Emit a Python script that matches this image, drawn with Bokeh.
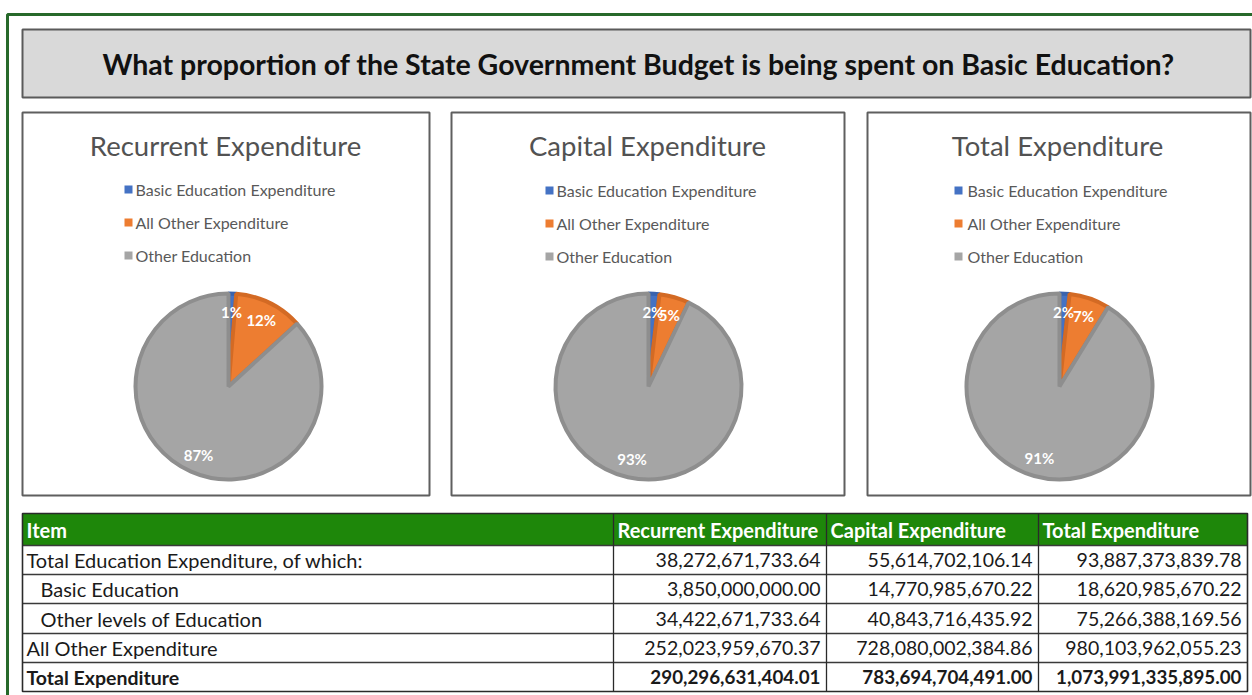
from bokeh.plotting import figure
from bokeh.models import Range1d, ColumnDataSource
from bokeh.core.properties import value
from bokeh.embed import file_html
from bokeh.resources import INLINE
import math

# ---------------- data ----------------
main_title = "What proportion of the State Government Budget is being spent on Basic Education?"
pie_titles = ["Recurrent Expenditure", "Capital Expenditure", "Total Expenditure"]
legend_labels = ["Basic Education Expenditure", "All Other Expenditure", "Other Education"]
slice_colors = ["#4472C4", "#ED7D31", "#A5A5A5"]

table_header = ["Item", "Recurrent Expenditure", "Capital Expenditure", "Total Expenditure"]
items = ["Total Education Expenditure, of which:", "Basic Education",
         "Other levels of Education", "All Other Expenditure", "Total Expenditure"]
recurrent = [38272671733.64, 3850000000.00, 34422671733.64, 252023959670.37, 290296631404.01]
capital = [55614702106.14, 14770985670.22, 40843716435.92, 728080002384.86, 783694704491.00]
total = [93887373839.78, 18620985670.22, 75266388169.56, 980103962055.23, 1073991335895.00]
columns = [recurrent, capital, total]
# pie slices: Basic Education, Other levels of Education, All Other Expenditure
slice_rows = [1, 2, 3]

# ---------------- layout / style ----------------
FONT = value("Lato")
W, H = 1252, 695
def Y(v):
    return H - v

p = figure(width=W, height=H, x_range=Range1d(0, W), y_range=Range1d(0, H),
           output_backend="svg", toolbar_location=None, min_border=0,
           x_axis_location=None, y_axis_location=None)
p.grid.visible = False
p.outline_line_color = None
p.background_fill_color = "white"
p.border_fill_color = "white"

# outer green frame
p.quad(left=[7], right=[1320], top=[Y(14)], bottom=[Y(760)], fill_color=None,
       line_color="#27692A", line_width=3)

# title box
p.quad(left=[22], right=[1250], top=[Y(29)], bottom=[Y(97)], fill_color="#D9D9D9",
       line_color="#5A5A5A", line_width=2)
p.text(x=[638], y=[Y(63)], text=[main_title], text_font=FONT, text_font_size="28.5px",
       text_font_style=value("bold"), text_color="#111111", text_align="center",
       text_baseline="middle")

box_left = [22, 451, 867]
box_right = [429, 844, 1250]
box_top, box_bottom = 112, 495
pie_cx = [228, 648, 1059]
pie_cy = 386
pie_r = 93
title_x = [225, 647, 1057]
legend_sq_x = [128, 549, 958]
legend_tx_x = [135, 556, 967]
legend_y = [189, 222, 255]
edge_colors = ["#3A63AD", "#D36A24", "#8E8E8E"]

for k in range(3):
    p.quad(left=[box_left[k]], right=[box_right[k]], top=[Y(box_top)], bottom=[Y(box_bottom)],
           fill_color="white", line_color="#5F5F5F", line_width=2)
    p.text(x=[title_x[k]], y=[Y(145)], text=[pie_titles[k]], text_font=FONT,
           text_font_size="27.5px", text_color="#525252", text_align="center",
           text_baseline="middle")
    # legend
    ly = [Y(v + (0 if k == 0 else 1)) for v in legend_y]
    p.scatter(x=[legend_sq_x[k]] * 3, y=ly, marker="square", size=8,
              fill_color=slice_colors, line_color=None)
    p.text(x=[legend_tx_x[k]] * 3, y=ly, text=legend_labels, text_font=FONT,
           text_font_size="16px", text_color="#595959", text_baseline="middle")
    # pie
    col = columns[k]
    vals = [col[i] for i in slice_rows]
    tot = sum(vals)
    starts, ends, lx, lyy, pcts = [], [], [], [], []
    c = 0.0
    for v in vals:
        f0, f1 = c / tot, (c + v) / tot
        c += v
        a0 = math.pi / 2 - 2 * math.pi * f0
        a1 = math.pi / 2 - 2 * math.pi * f1
        starts.append(a0)
        ends.append(a1)
        am = (a0 + a1) / 2
        lx.append(pie_cx[k] + 0.8 * pie_r * math.cos(am))
        lyy.append(Y(pie_cy) + 0.8 * pie_r * math.sin(am))
        pcts.append(f"{round(100 * v / tot)}%")
    src = ColumnDataSource(dict(start=starts, end=ends, color=slice_colors,
                                edge=edge_colors, lx=lx, ly=lyy, pct=pcts))
    p.wedge(x=pie_cx[k], y=Y(pie_cy), radius=pie_r, start_angle="start", end_angle="end",
            direction="clock", fill_color="color", line_color="edge", line_width=4,
            source=src)
    p.text(x="lx", y="ly", text="pct", source=src, text_font=FONT, text_font_size="15px",
           text_font_style=value("bold"), text_color="white", text_align="center",
           text_baseline="middle")

# ---------------- table ----------------
col_edges = [22, 613, 826, 1038, 1247]
row_edges = [513, 545, 574, 603, 633, 662, 691]
indent = [0, 1, 1, 0, 0]
row_bold = [False, False, False, False, True]
TFS = "20px"
NFS = "19.5px"
NFS_BOLD = "18.8px"

p.quad(left=[col_edges[0]], right=[col_edges[-1]], top=[Y(row_edges[0])], bottom=[Y(row_edges[1])],
       fill_color="#1E870A", line_color=None)
p.text(x=[col_edges[j] + 4 for j in range(4)], y=[Y((row_edges[0] + row_edges[1]) / 2)] * 4,
       text=table_header, text_font=FONT, text_font_size=TFS, text_font_style=value("bold"),
       text_color="white", text_baseline="middle")

for i, name in enumerate(items):
    yc = Y((row_edges[i + 1] + row_edges[i + 2]) / 2)
    style = value("bold") if row_bold[i] else value("normal")
    p.text(x=[col_edges[0] + 4 + 14 * indent[i]], y=[yc], text=[name], text_font=FONT,
           text_font_size=TFS if not row_bold[i] else "19.5px", text_font_style=style,
           text_color="#1A1A1A", text_baseline="middle")
    p.text(x=[col_edges[j + 2] - 6 for j in range(3)], y=[yc] * 3,
           text=[f"{columns[j][i]:,.2f}" for j in range(3)], text_font=FONT,
           text_font_size=NFS_BOLD if row_bold[i] else NFS, text_font_style=style,
           text_color="#1A1A1A", text_align="right", text_baseline="middle")

# grid lines
for ry in row_edges[1:-1]:
    p.segment(x0=[col_edges[0]], x1=[col_edges[-1]], y0=[Y(ry)], y1=[Y(ry)],
              line_color="#3A3A3A", line_width=1.3)
for cx in col_edges[1:-1]:
    p.segment(x0=[cx], x1=[cx], y0=[Y(row_edges[0])], y1=[Y(row_edges[-1])],
              line_color="#2A2A2A", line_width=1.3)
p.quad(left=[col_edges[0]], right=[col_edges[-1]], top=[Y(row_edges[0])], bottom=[Y(row_edges[-1])],
       fill_color=None, line_color="#2A2A2A", line_width=1.6)

open("out.html", "w").write(file_html(p, INLINE))
